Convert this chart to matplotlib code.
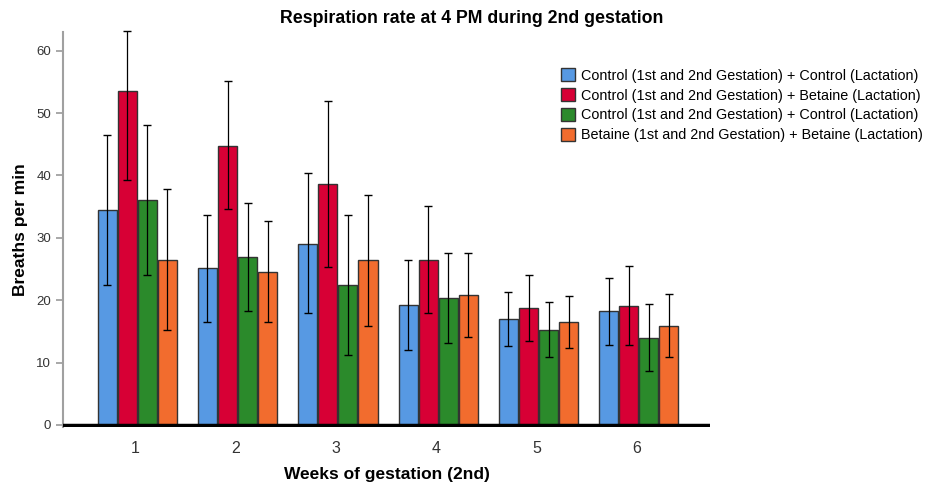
import numpy as np
import matplotlib.pyplot as plt

plt.rcParams['font.family'] = ['Liberation Sans', 'DejaVu Sans']

weeks = ['1', '2', '3', '4', '5', '6']
groups = ['Control (1st and 2nd Gestation) + Control (Lactation)',
          'Control (1st and 2nd Gestation) + Betaine (Lactation)',
          'Control (1st and 2nd Gestation) + Control (Lactation)',
          'Betaine (1st and 2nd Gestation) + Betaine (Lactation)']
colors = ['#5799e3', '#d70035', '#2b8a2b', '#f26c2e']

# means
ctrl_ctrl = [34.5, 25.1, 29.0, 19.3, 17.0, 18.3]
ctrl_bet = [53.6, 44.8, 38.7, 26.5, 18.7, 19.1]
ctrl_ctrl2 = [36.1, 27.0, 22.4, 20.4, 15.2, 14.0]
bet_bet = [26.5, 24.6, 26.5, 20.9, 16.5, 15.9]
# error bar ends (low, high)
low_ctrl_ctrl = [22.5, 16.5, 17.9, 12.0, 12.6, 12.9]
high_ctrl_ctrl = [46.5, 33.7, 40.4, 26.5, 21.3, 23.6]
low_ctrl_bet = [39.3, 34.6, 25.4, 17.9, 13.5, 12.8]
high_ctrl_bet = [63.2, 55.1, 51.9, 35.1, 24.0, 25.5]
low_ctrl_ctrl2 = [24.0, 18.3, 11.2, 13.2, 10.9, 8.6]
high_ctrl_ctrl2 = [48.1, 35.6, 33.6, 27.6, 19.7, 19.4]
low_bet_bet = [15.2, 16.5, 15.9, 14.1, 12.4, 10.9]
high_bet_bet = [37.8, 32.7, 36.9, 27.6, 20.6, 21.0]

means = [ctrl_ctrl, ctrl_bet, ctrl_ctrl2, bet_bet]
lows = [low_ctrl_ctrl, low_ctrl_bet, low_ctrl_ctrl2, low_bet_bet]
highs = [high_ctrl_ctrl, high_ctrl_bet, high_ctrl_ctrl2, high_bet_bet]

fig = plt.figure(figsize=(9.27, 4.9), dpi=100)
ax = fig.add_axes([0.068, 0.1276, 0.698, 0.807])

x = np.arange(1, len(weeks) + 1)
w = 0.2
for i in range(4):
    pos = x + (i - 1.5) * w + 0.02
    m = np.array(means[i])
    yerr = [m - np.array(lows[i]), np.array(highs[i]) - m]
    ax.bar(pos, m, width=0.19, color=colors[i], edgecolor='#333333',
           linewidth=1.0, label=groups[i], zorder=2)
    eb = ax.errorbar(pos, m, yerr=yerr, fmt='none', ecolor='black',
                     elinewidth=0.9, capsize=3, capthick=1.0, zorder=3)
    for art in eb.lines[1] + eb.lines[2]:
        art.set_clip_on(False)

ax.axhline(0, color='black', lw=2.5, zorder=4)
ax.set_xlim(0.28, 6.73)
ax.set_ylim(-0.4, 63)
ax.set_yticks([0, 10, 20, 30, 40, 50, 60])
ax.set_xticks(x)
ax.set_xticklabels(weeks, fontsize=11.5, color='#333333')
ax.tick_params(axis='x', length=0, pad=10)
ax.tick_params(axis='y', length=5, width=1.2, color='#999999', labelsize=9.5,
               labelcolor='#333333')
for s in ['top', 'right', 'bottom']:
    ax.spines[s].set_visible(False)
ax.spines['left'].set_color('#a0a0a0')
ax.spines['left'].set_linewidth(1.5)

ax.set_ylabel('Breaths per min', fontsize=12.5, fontweight='bold', labelpad=6)
ax.set_xlabel('Weeks of gestation (2nd)', fontsize=12.5, fontweight='bold', labelpad=8)
fig.text(0.509, 0.963, 'Respiration rate at 4 PM during 2nd gestation',
         ha='center', va='center', fontsize=12.8, fontweight='bold')

fig.legend(loc='upper left', bbox_to_anchor=(0.599, 0.872), frameon=False,
           fontsize=10.4, handlelength=1.0, handleheight=1.0, handletextpad=0.4,
           labelspacing=0.37, borderaxespad=0)

fig.savefig('out.png', dpi=100)
